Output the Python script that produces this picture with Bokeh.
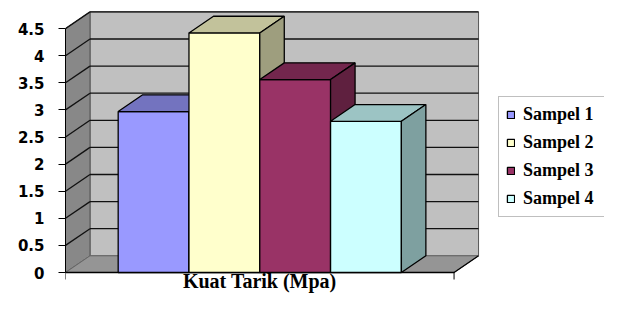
from bokeh.plotting import figure
from bokeh.models import Range1d, FixedTicker, Legend, LegendItem, ColumnDataSource
from bokeh.core.properties import value
from bokeh.embed import file_html
from bokeh.resources import INLINE

# ---------------- data ----------------
categories = ["Sampel 1", "Sampel 2", "Sampel 3", "Sampel 4"]
kuat_tarik = [2.97, 4.42, 3.56, 2.79]
y_ticks = [0.0, 0.5, 1.0, 1.5, 2.0, 2.5, 3.0, 3.5, 4.0, 4.5]
y_tick_labels = ["0", "0.5", "1", "1.5", "2", "2.5", "3", "3.5", "4", "4.5"]
x_title = "Kuat Tarik (Mpa)"

# ---------------- styles ----------------
front_colors = ["#9999FF", "#FFFFCC", "#993366", "#CCFFFF"]
top_colors = ["#7373BF", "#C2C29B", "#73264D", "#9CC4C4"]
side_colors = ["#5F5F9E", "#9E9E7E", "#5F203F", "#7EA0A0"]
BACK_WALL = "#C0C0C0"
SIDE_WALL = "#888888"
FLOOR = "#959595"
GRID = "#111111"

# geometry (pixel scale and 3-D depth)
PX_X = 70.8      # px per category slot
PX_Y = 54.2      # px per value unit
DX = 24.5 / PX_X
DY = 16.7 / PX_Y
GAP = 0.744
n = len(categories)
W = n + 2 * GAP
YMAX = y_ticks[-1]

CW, CH = 604, 293
LEFT = 65
ZERO_Y = 272          # canvas row of value 0
fw = CW - LEFT
fh = CH
y_start = -(CH - ZERO_Y) / PX_Y

p = figure(width=CW, height=CH, output_backend="svg", toolbar_location=None,
           x_range=Range1d(0, fw / PX_X), y_range=Range1d(y_start, y_start + fh / PX_Y),
           x_axis_type=None, min_border_left=LEFT, min_border_right=0,
           min_border_top=0, min_border_bottom=0)
p.outline_line_color = None
p.ygrid.visible = False
p.background_fill_color = "white"
p.border_fill_color = "white"

# walls and floor
p.patch([DX, DX + W, DX + W, DX], [DY, DY, YMAX + DY, YMAX + DY],
        fill_color=BACK_WALL, line_color="#555555", line_width=1)
p.patch([0, DX, DX, 0], [0, DY, YMAX + DY, YMAX],
        fill_color=SIDE_WALL, line_color="#555555", line_width=1)
p.patch([0, W, W + DX, DX], [0, 0, DY, DY],
        fill_color=FLOOR, line_color="#666666", line_width=1)

grid_vals = y_ticks[1:]
p.multi_line(xs=[[DX, DX + W] for v in grid_vals],
             ys=[[v + DY, v + DY] for v in grid_vals],
             line_color=GRID, line_width=1.3)
p.multi_line(xs=[[0, DX] for v in grid_vals],
             ys=[[v, v + DY] for v in grid_vals],
             line_color=GRID, line_width=1.3)

# floor front/right edge and category boundary ticks
p.line([0, W, W + DX], [0, 0, DY], line_color="black", line_width=1.3)
p.segment(x0=[0, W], y0=[0, 0], x1=[0, W], y1=[-7 / PX_Y, -7 / PX_Y],
          line_color="black", line_width=1)

# bars
items = []
for i, (cat, v) in enumerate(zip(categories, kuat_tarik)):
    xl = GAP + i
    xr = xl + 1
    src = ColumnDataSource(dict(left=[xl], right=[xr], bottom=[0], top=[v]))
    fr = p.quad(left="left", right="right", bottom="bottom", top="top", source=src,
                fill_color=front_colors[i], line_color="black", line_width=1.3)
    p.patch([xl, xr, xr + DX, xl + DX], [v, v, v + DY, v + DY],
            fill_color=top_colors[i], line_color="black", line_width=1.3)
    p.patch([xr, xr + DX, xr + DX, xr], [0, DY, v + DY, v],
            fill_color=side_colors[i], line_color="black", line_width=1.3)
    items.append(LegendItem(label=cat, renderers=[fr]))

legend = Legend(items=items, location=(433, 76),
                label_text_font="Liberation Serif", label_text_font_style="bold",
                label_text_font_size="18px", label_text_color="black",
                glyph_width=9, glyph_height=9, label_standoff=8,
                label_width=74, label_height=21, spacing=7, padding=7, margin=0,
                border_line_color="#7f7f7f", border_line_width=1,
                background_fill_color="white", background_fill_alpha=1)
p.add_layout(legend)

# x-axis title (inside the frame, below the floor)
p.text(x=[W / 2], y=[-8 / PX_Y], text=[x_title],
       text_font=value("Liberation Serif"), text_font_style="bold",
       text_font_size="20px", text_align="center", text_baseline="alphabetic",
       text_color="black")

# y axis
ax = p.yaxis[0]
ax.ticker = FixedTicker(ticks=y_ticks)
ax.bounds = (0, YMAX)
ax.major_label_overrides = {t: s for t, s in zip(y_ticks, y_tick_labels)}
ax.major_label_text_font = "DejaVu Sans"
ax.major_label_text_font_style = "bold"
ax.major_label_text_font_size = "15px"
ax.major_label_text_color = "black"
ax.major_tick_out = 7
ax.major_tick_in = 0
ax.minor_tick_out = 0
ax.minor_tick_in = 0
ax.major_label_standoff = 14
ax.axis_line_color = "black"
ax.major_tick_line_color = "black"

open("out.html", "w").write(file_html(p, INLINE))
